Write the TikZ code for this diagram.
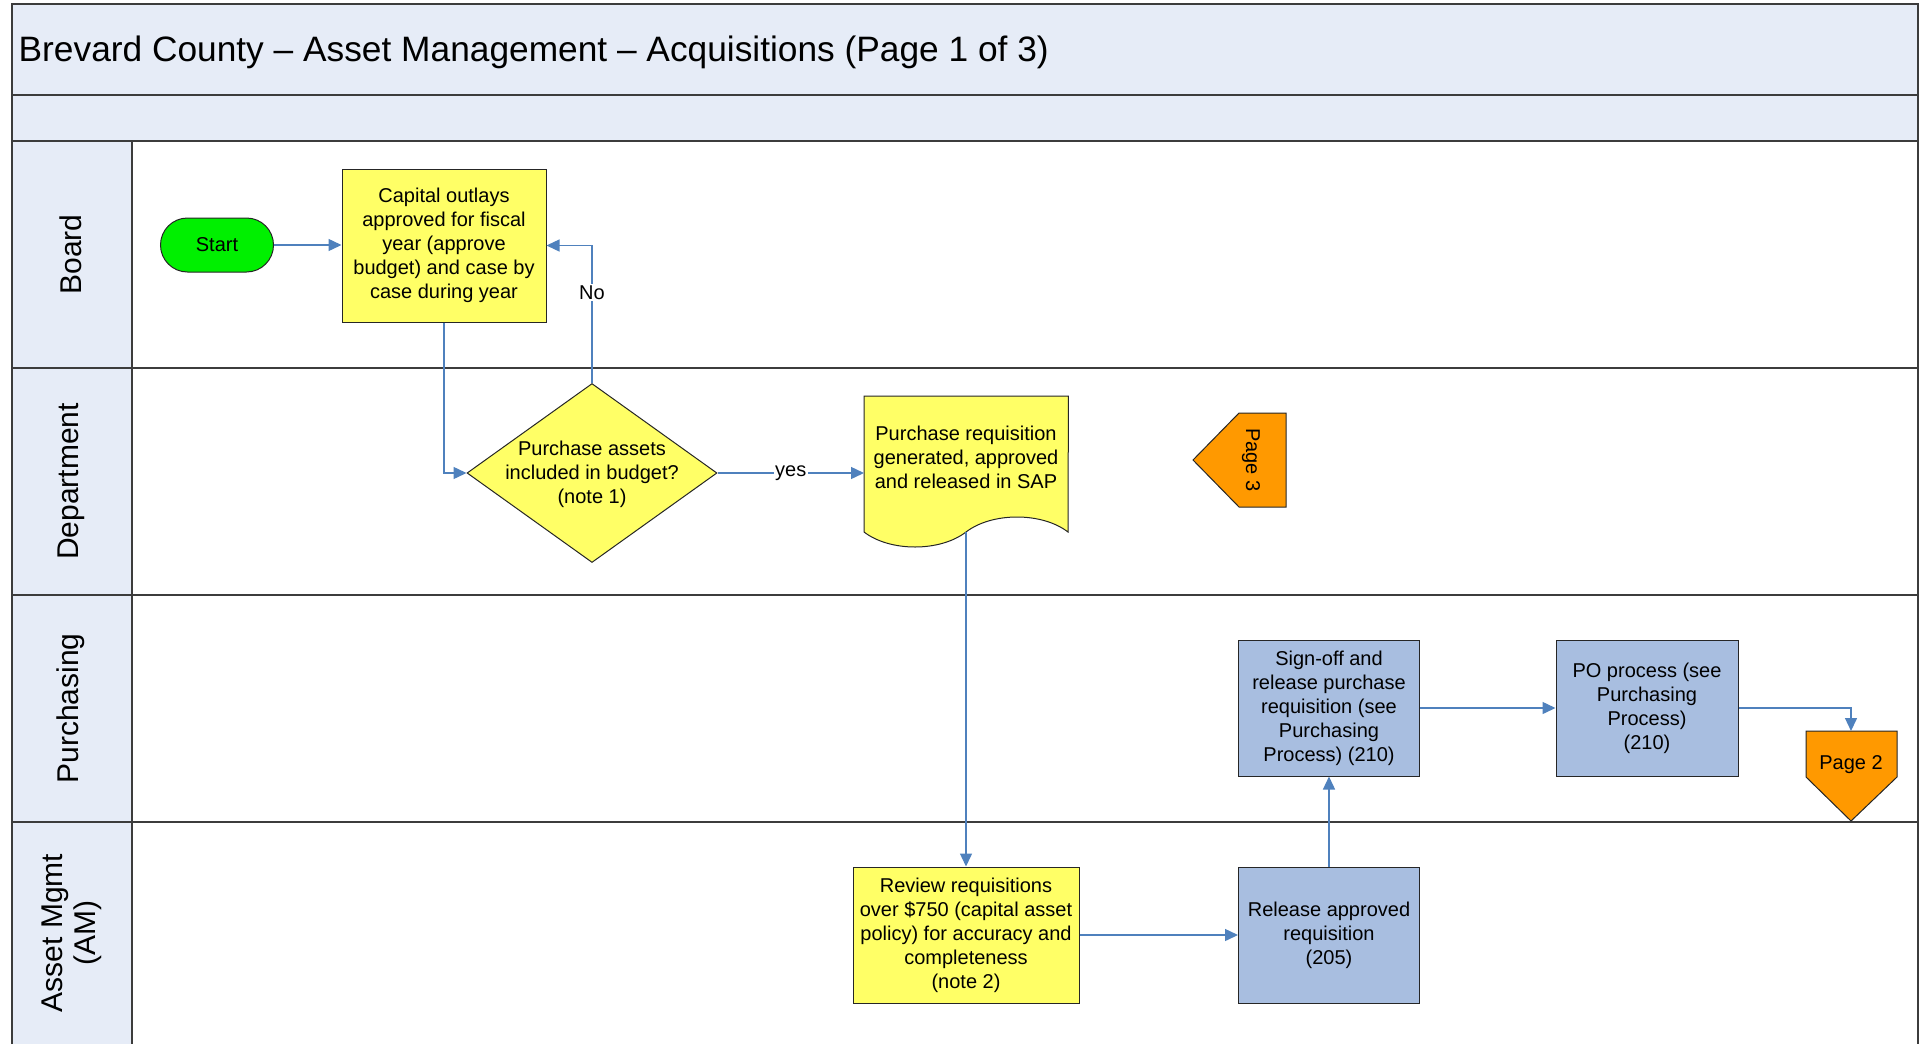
\documentclass[tikz,border=0pt]{standalone}
\usepackage{fontspec}
\setmainfont{Liberation Sans}
\usetikzlibrary{arrows.meta,shapes.geometric}

\definecolor{lanefill}{RGB}{230,236,247}
\definecolor{boxyellow}{RGB}{255,255,102}
\definecolor{boxblue}{RGB}{168,190,224}
\definecolor{pageorange}{RGB}{255,153,0}
\definecolor{startgreen}{RGB}{0,240,0}
\definecolor{flowblue}{RGB}{79,129,189}
\definecolor{laneline}{RGB}{60,60,60}

\begin{document}
\begin{tikzpicture}[x=1pt,y=-1pt,
  every node/.style={font=\fontsize{20}{24}\selectfont, inner sep=0pt},
  box/.style={draw=black!85, line width=1pt, align=center},
  yellowbox/.style={box, fill=boxyellow},
  bluebox/.style={box, fill=boxblue},
  pageshape/.style={draw=black!85, line width=1pt, fill=pageorange},
  flow/.style={draw=flowblue, line width=1.4pt, -{Triangle[length=13pt,width=12pt]}},
  flowlabel/.style={fill=white, inner sep=1.5pt},
  lanerule/.style={draw=laneline, line width=2pt},
  lanetitle/.style={font=\fontsize{30}{33}\selectfont, rotate=90, align=center},
]
\useasboundingbox (0,0) rectangle (1921,1044);

% header bands and lane label column
\fill[lanefill] (12,4) rectangle (1918,141);
\fill[lanefill] (12,141) rectangle (132,1044);
\draw[lanerule] (12,1044) -- (12,4) -- (1918,4) -- (1918,1044);
\draw[lanerule] (12,95) -- (1918,95);
\draw[lanerule] (12,141) -- (1918,141);
\draw[lanerule] (12,368) -- (1918,368);
\draw[lanerule] (12,595) -- (1918,595);
\draw[lanerule] (12,822) -- (1918,822);
\draw[lanerule] (132,141) -- (132,1044);

\node[anchor=west, font=\fontsize{35.3}{40}\selectfont] (title) at (18.5,52)
  {Brevard County – Asset Management – Acquisitions (Page 1 of 3)};

% lane names
\node[lanetitle] (lboard) at (71,254.5) {Board};
\node[lanetitle] (ldept) at (71,481.5) {Department};
\node[lanetitle] (lpurch) at (71,708.5) {Purchasing};
\node[lanetitle] (lam) at (72,933) {Asset Mgmt\\(AM)};

% Board
\node[draw=black!85, line width=1pt, fill=startgreen, rounded corners=27pt,
      minimum width=113pt, minimum height=54pt] (start) at (217,245) {Start};
\node[yellowbox, minimum width=204pt, minimum height=153pt] (cap) at (444,245.5)
  {Capital outlays\\approved for fiscal\\year (approve\\budget) and case by\\case during year};

% Department
\node[yellowbox, diamond, minimum width=250pt, minimum height=179pt] (dec) at (592,473) {};
\node[align=center] (dectext) at (592,474) {Purchase assets\\included in budget?\\(note 1)};

\node[minimum width=204pt, minimum height=136pt, anchor=north west] (doc) at (864,396) {};
\draw[box, fill=boxyellow] (doc.north west) -- (doc.north east) -- (1068,532)
  .. controls (1042,512) and (992,512) .. (966,532)
  .. controls (940,552) and (890,552) .. (864,532) -- cycle;
\coordinate (docbot) at (966,532);
\node[align=center] (doctext) at (966,457)
  {Purchase requisition\\generated, approved\\and released in SAP};

\draw[pageshape] (1193,460) -- (1239,413) -- (1286,413) -- (1286,507) -- (1239,507) -- cycle;
\node[rotate=-90] (p3) at (1251,460) {Page 3};

% Purchasing
\node[bluebox, minimum width=181pt, minimum height=136pt] (signoff) at (1329,708)
  {Sign-off and\\release purchase\\requisition (see\\Purchasing\\Process) (210)};
\node[bluebox, minimum width=182pt, minimum height=136pt] (po) at (1647,708)
  {PO process (see\\Purchasing\\Process)\\(210)};
\draw[pageshape] (1806,731) -- (1897,731) -- (1897,777) -- (1851,821) -- (1806,777) -- cycle;
\coordinate (p2top) at (1851,731);
\node (p2) at (1851,765) {Page 2};

% Asset Mgmt
\node[yellowbox, minimum width=226pt, minimum height=136pt] (review) at (966,935)
  {Review requisitions\\over \$750 (capital asset\\policy) for accuracy and\\completeness\\(note 2)};
\node[bluebox, minimum width=181pt, minimum height=136pt] (release) at (1329,935)
  {Release approved\\requisition\\(205)};

% flow
\draw[flow] (start.east) -- (start.east -| cap.west);
\draw[flow] (cap.south) |- (dec.west);
\draw[flow] (dec.north) |- node[flowlabel, pos=0.33] {No} (cap.east);
\draw[flow] (dec.east) -- node[flowlabel] {yes} (dec.east -| doc.west);
\draw[flow] (docbot) -- (review.north);
\draw[flow] (review.east) -- (release.west);
\draw[flow] (release.north) -- (signoff.south);
\draw[flow] (signoff.east) -- (po.west);
\draw[flow] (po.east) -| (p2top);
\end{tikzpicture}
\end{document}
